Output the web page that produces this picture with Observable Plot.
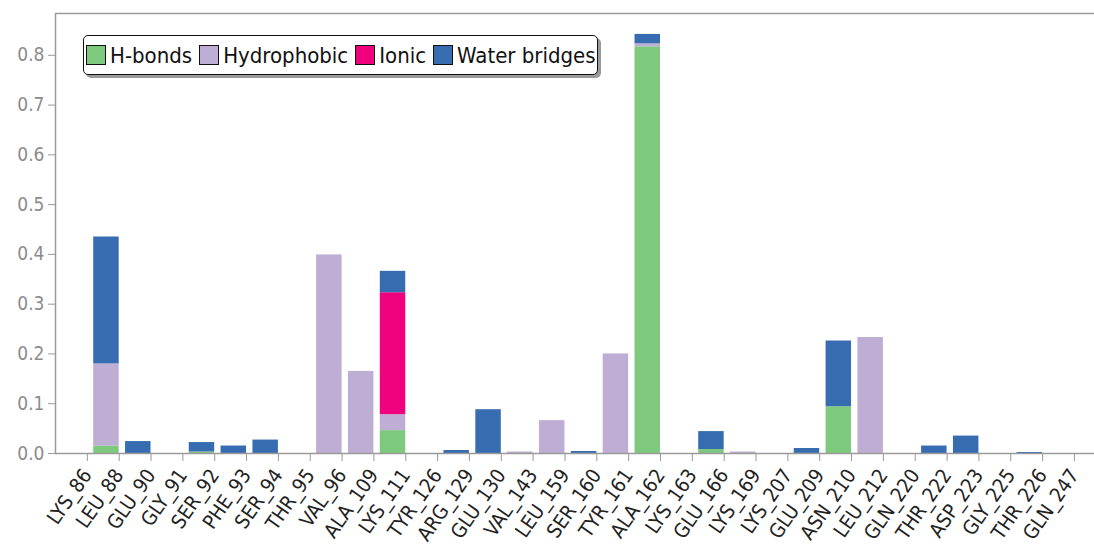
<!DOCTYPE html>
<html>
<head>
<meta charset="utf-8">
<script src="https://cdn.jsdelivr.net/npm/d3@7"></script>
<script src="https://cdn.jsdelivr.net/npm/@observablehq/plot@0.6"></script>
<style>
  body { margin: 0; background: #fff; }
  #wrap { position: relative; width: 1094px; height: 546px; }
  .legend {
    position: absolute; left: 83px; top: 35px; width: 515px; height: 40px;
    border: 1.5px solid #111; border-radius: 5px; box-shadow: 3px 3px 0 #9a9a9a;
    background: #fff; display: flex; align-items: center; box-sizing: border-box;
    padding-left: 2px; font-family: "DejaVu Sans Condensed", "DejaVu Sans", sans-serif;
    font-stretch: condensed; font-size: 22px; color: #111; white-space: nowrap;
  }
  .item { display: flex; align-items: center; margin-right: 7px; flex-shrink: 0; white-space: nowrap; }
  .sw { width: 18px; height: 18px; border: 1.5px solid #111; margin-right: 4px; flex-shrink: 0; }
</style>
</head>
<body>
<div id="wrap"></div>
<script>
const residues = ["LYS_86","LEU_88","GLU_90","GLY_91","SER_92","PHE_93","SER_94","THR_95","VAL_96","ALA_109","LYS_111","TYR_126","ARG_129","GLU_130","VAL_143","LEU_159","SER_160","TYR_161","ALA_162","LYS_163","GLU_166","LYS_169","LYS_207","GLU_209","ASN_210","LEU_212","GLN_220","THR_222","ASP_223","GLY_225","THR_226","GLN_247"];
const hbonds      = [0, 0.015, 0, 0, 0.003, 0, 0, 0, 0, 0, 0.046, 0, 0, 0, 0, 0, 0, 0, 0.817, 0, 0.008, 0, 0, 0, 0.094, 0, 0, 0, 0, 0, 0, 0];
const hydrophobic = [0, 0.165, 0, 0, 0, 0, 0, 0, 0.399, 0.165, 0.032, 0, 0, 0, 0.003, 0.066, 0, 0.200, 0.006, 0, 0, 0.003, 0, 0, 0, 0.233, 0, 0, 0, 0, 0, 0];
const ionic       = [0, 0, 0, 0, 0, 0, 0, 0, 0, 0, 0.245, 0, 0, 0, 0, 0, 0, 0, 0, 0, 0, 0, 0, 0, 0, 0, 0, 0, 0, 0, 0, 0];
const water       = [0, 0.255, 0.024, 0, 0.019, 0.015, 0.027, 0, 0, 0, 0.043, 0, 0.006, 0.088, 0, 0, 0.004, 0, 0.019, 0, 0.036, 0, 0, 0.010, 0.132, 0, 0, 0.015, 0.035, 0, 0.002, 0];
const types  = ["H-bonds", "Hydrophobic", "Ionic", "Water bridges"];
const colors = ["#7fc97f", "#beaed4", "#f0027f", "#386cb0"];
const yTicks = [0, 0.1, 0.2, 0.3, 0.4, 0.5, 0.6, 0.7, 0.8];
const yMax = 0.884;
const barWidth = 0.8;

const series = [hbonds, hydrophobic, ionic, water];
const rows = residues.flatMap((r, i) => types.map((t, k) => ({i, residue: r, type: t, value: series[k][i]})));

const font = '"DejaVu Sans Condensed", "DejaVu Sans", sans-serif';
const chart = Plot.plot({
  width: 1094, height: 546,
  marginLeft: 55, marginRight: 0, marginTop: 13, marginBottom: 93,
  style: {fontFamily: font, background: "white", fontStretch: "condensed"},
  x: {domain: [-1, residues.length - 0.37], axis: null},
  y: {domain: [0, yMax], axis: null},
  color: {domain: types, range: colors},
  marks: [
    Plot.rectY(rows, {x1: d => d.i - barWidth, x2: d => d.i, y: "value", fill: "type"}),
    Plot.axisY({ticks: yTicks, tickFormat: d3.format(".1f"), label: null, tickSize: 7, tickPadding: 4, fontSize: 19, stroke: "#999", fill: "#8c8c8c"}),
    Plot.axisX({ticks: d3.range(residues.length), tickFormat: i => residues[i], label: null, tickRotate: -55, tickSize: 8, tickPadding: 10, fontSize: 20, stroke: "#999", fill: "#222"}),
    Plot.ruleY([0, yMax], {stroke: "#9a9a9a", strokeWidth: 1.5}),
    Plot.ruleX([-1], {stroke: "#9a9a9a", strokeWidth: 1.5})
  ]
});
const wrap = document.getElementById("wrap");
wrap.appendChild(chart);

const legend = document.createElement("div");
legend.className = "legend";
types.forEach((t, k) => {
  const item = document.createElement("div");
  item.className = "item";
  const sw = document.createElement("div");
  sw.className = "sw";
  sw.style.background = colors[k];
  const label = document.createElement("span");
  label.textContent = t;
  item.appendChild(sw); item.appendChild(label);
  legend.appendChild(item);
});
wrap.appendChild(legend);
</script>
</body>
</html>
